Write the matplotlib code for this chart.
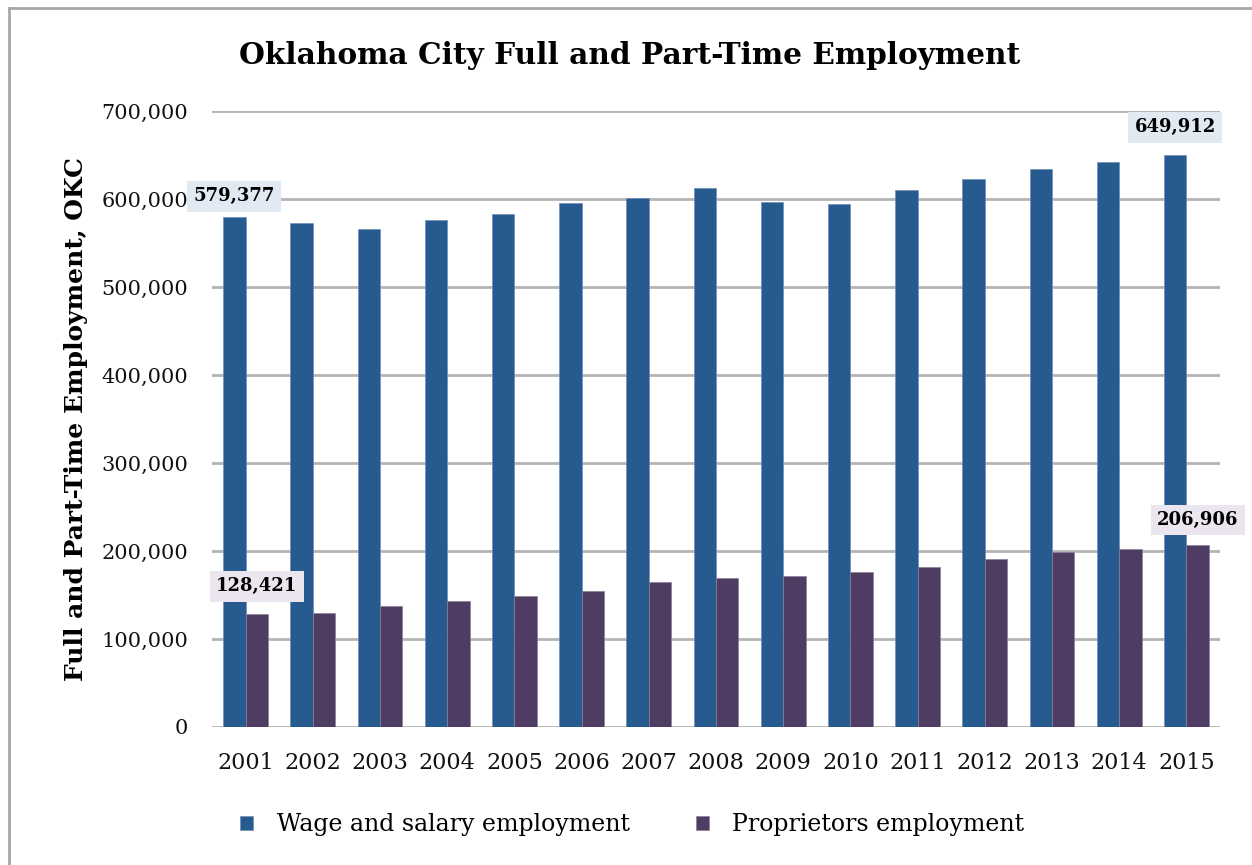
import numpy as np
import matplotlib.pyplot as plt
from matplotlib.lines import Line2D
from matplotlib.ticker import FuncFormatter

years = ['2001', '2002', '2003', '2004', '2005', '2006', '2007', '2008',
         '2009', '2010', '2011', '2012', '2013', '2014', '2015']
wage = [579377, 573200, 565700, 575900, 583400, 594900, 601000, 613000,
        597000, 594000, 610000, 623000, 634000, 642600, 649912]
proprietors = [128421, 129800, 137000, 143000, 148700, 154400, 164600, 169300,
               172000, 176600, 182300, 191400, 198500, 202700, 206906]

wage_color = '#275b90'
prop_color = '#4e3c62'

plt.rcParams['font.family'] = 'DejaVu Serif'

fig = plt.figure(figsize=(12.52, 8.65), dpi=100)
ax = fig.add_axes([212/1252, 1 - 727/865, 1008/1252, 616/865])

x = np.arange(len(years))
w = 1/3
ax.bar(x - w/2, wage, w, color=wage_color, edgecolor='#6f8fb5', linewidth=0.5,
       label='Wage and salary employment', zorder=3)
ax.bar(x + w/2, proprietors, w, color=prop_color, edgecolor='#8a7f9a', linewidth=0.5,
       label='Proprietors employment', zorder=3)

ax.set_xlim(-0.5, len(years) - 0.5)
ax.set_ylim(0, 700000)
ax.set_yticks(range(0, 700001, 100000))
ax.yaxis.set_major_formatter(FuncFormatter(lambda v, p: f'{int(v):,}'))
ax.set_xticks(x)
ax.set_xticklabels(years)
ax.grid(axis='y', color='#b4b4b4', linewidth=2, zorder=0)
ax.set_axisbelow(True)
for s in ax.spines.values():
    s.set_visible(False)
ax.tick_params(length=0, labelsize=15, colors='#111111')
ax.tick_params(axis='y', pad=17)
ax.tick_params(axis='x', pad=18, labelsize=16)

ax.set_ylabel('Full and Part-Time Employment, OKC', fontsize=18, fontweight='bold', labelpad=10)
fig.text(0.503, 1 - 55/865, 'Oklahoma City Full and Part-Time Employment',
         ha='center', va='center', fontsize=21.3, fontweight='bold')

# data labels
def label(i, series, off, xoff, bg):
    ax.annotate(f'{series[i]:,}', (i + xoff, series[i]), xytext=(0, off),
                textcoords='offset points', ha='center', va='center',
                fontsize=13, fontweight='bold', zorder=5,
                bbox=dict(boxstyle='square,pad=0.35', fc=bg, ec='none'))

label(0, wage, 15, -w/2, '#e1e9f2')
label(14, wage, 20, -w/2, '#e1e9f2')
label(0, proprietors, 20, w/2, '#ebe5f0')
label(14, proprietors, 18, w/2, '#ebe5f0')

fig.legend(loc='center', bbox_to_anchor=(0.505, 1 - 825/865), ncol=2, frameon=False,
           fontsize=17, handlelength=0.55, handleheight=0.55, handletextpad=1.0,
           columnspacing=2.8)

# border
fig.add_artist(Line2D([9/1252, 9/1252], [0, 1 - 8/865], color='#a8a8a8', lw=2,
                      transform=fig.transFigure))
fig.add_artist(Line2D([9/1252, 1], [1 - 8/865, 1 - 8/865], color='#a8a8a8', lw=2,
                      transform=fig.transFigure))

plt.savefig('out.png', dpi=100)
